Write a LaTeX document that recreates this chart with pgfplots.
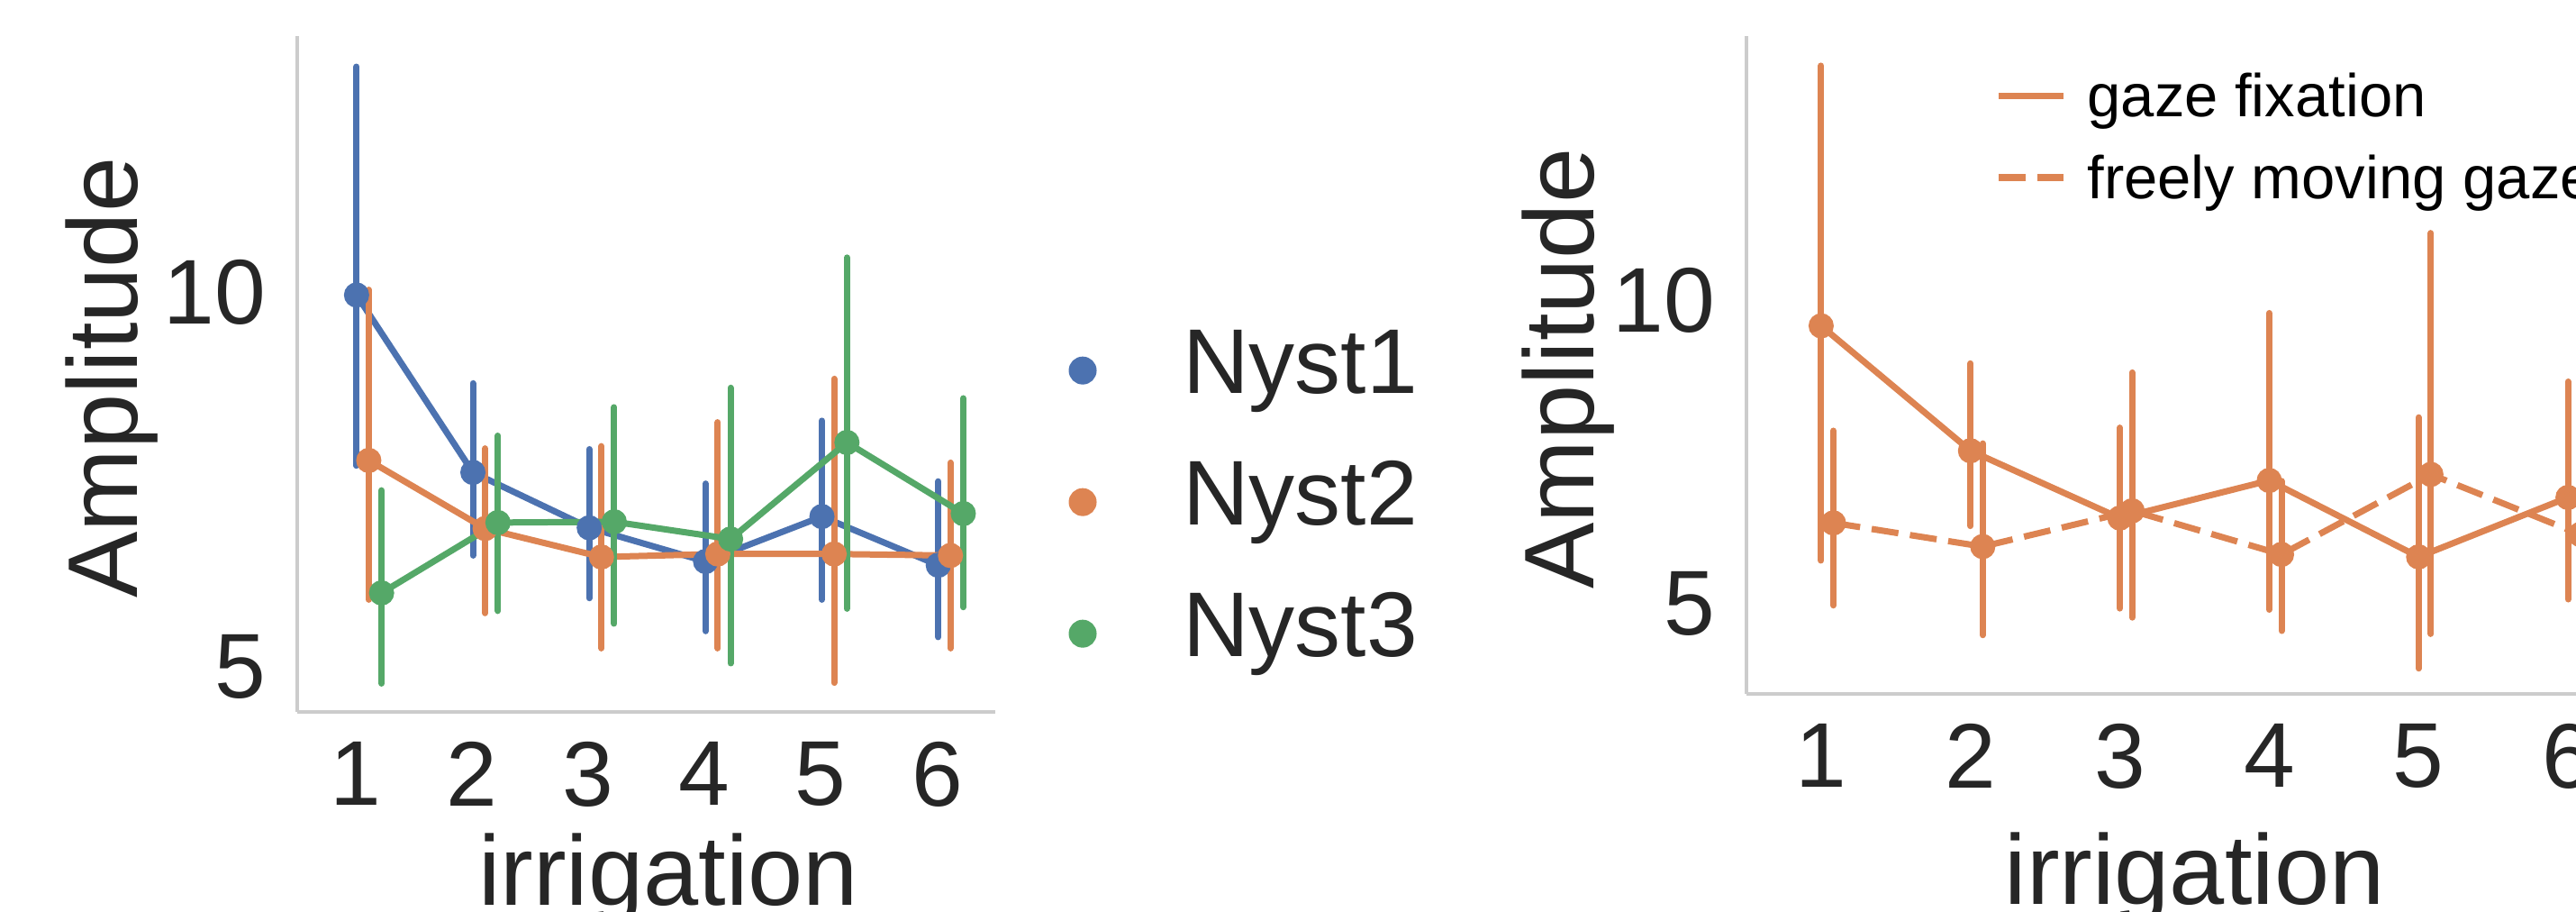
\documentclass[border=0pt]{standalone}
\usepackage{fontspec}
\setmainfont{Liberation Sans}
\usepackage{pgfplots}
\usepackage{pgfplotstable}
\pgfplotsset{compat=1.18}

\definecolor{sblue}{HTML}{4C72B0}
\definecolor{sorange}{HTML}{DD8452}
\definecolor{sgreen}{HTML}{55A868}
\definecolor{txt}{HTML}{262626}
\definecolor{spine}{HTML}{CCCCCC}

% x = irrigation, m = mean, lo/hi = ends of the error bar
\pgfplotstableread{
x m lo hi
1 9.97 7.69 13.02
2 7.60 6.49 8.79
3 6.86 5.92 7.91
4 6.41 5.48 7.45
5 7.01 5.90 8.29
6 6.36 5.40 7.48
}\nystA
\pgfplotstableread{
x m lo hi
1 7.76 5.90 10.04
2 6.85 5.72 7.92
3 6.47 5.25 7.95
4 6.51 5.25 8.27
5 6.51 4.79 8.85
6 6.49 5.25 7.73
}\nystB
\pgfplotstableread{
x m lo hi
1 5.99 4.78 7.36
2 6.93 5.75 8.09
3 6.94 5.58 8.47
4 6.71 5.05 8.73
5 8.00 5.78 10.47
6 7.05 5.80 8.59
}\nystC
\pgfplotstableread{
x m lo hi
1 9.58 5.71 13.87
2 7.52 6.28 8.96
3 6.41 4.92 7.90
4 7.03 4.90 9.79
5 5.77 3.93 8.07
6 6.75 5.07 8.66
}\fixation
\pgfplotstableread{
x m lo hi
1 6.33 4.97 7.85
2 5.94 4.48 7.64
3 6.53 4.77 8.81
4 5.81 4.55 7.02
5 7.13 4.50 11.11
6 6.14 4.60 7.90
}\freegaze

\pgfplotsset{
  snsaxis/.style={
    scale only axis,
    axis x line*=bottom, axis y line*=left,
    axis line style={draw=spine, line width=0.4pt, -},
    x axis line style={-}, y axis line style={-},
    major tick length=0pt, tick style={draw=none},
    xmin=0.5, xmax=6.5,
    xtick={1,2,3,4,5,6}, xticklabels={1,2,3,4,5,6},
    ytick={5,10}, yticklabels={5,10},
    tick label style={font=\fontsize{10.2}{12}\selectfont, text=txt},
    xticklabel style={inner sep=0pt, anchor=north, yshift=-3.1pt},
    yticklabel style={inner sep=0pt, anchor=east, xshift=-3.3pt},
    label style={font=\fontsize{11}{13}\selectfont, text=txt, inner sep=0pt},
    /pgf/number format/assume math mode=true,
  },
  ebar/.style={
    line width=0.7pt, line join=round, mark=none, forget plot,
    error bars/.cd, y dir=both, y explicit, error mark=none,
    error bar style={line width=0.7pt, line cap=round, solid},
    /pgfplots/.cd,
  },
  dots/.style={only marks, mark=*, mark size=1.3pt, forget plot,
    mark options={solid, line width=0.2pt}},
}

\begin{document}
\begin{tikzpicture}

\begin{axis}[snsaxis,
  at={(33pt,22.2pt)}, anchor=south west,
  width=77.5pt, height=75pt,
  ymin=4.40, ymax=13.43,
  xlabel={irrigation}, ylabel={Amplitude},
  xlabel style={at={(axis description cs:0.5316,-0.2867)}, anchor=base},
  ylabel style={at={(axis description cs:-0.2288,0.4944)}, anchor=base},
  legend image code/.code={\fill[#1] (0pt,0pt) circle (1.35pt); \path (-1.35pt,0pt) (10.9pt,0pt);},
  legend style={at={(axis description cs:1.1052,0.5711)}, anchor=north west,
    draw=none, fill=none, inner sep=0pt, outer sep=0pt, row sep=4.7pt, column sep=0pt,
    nodes={inner sep=0pt, text height=7.5pt, text depth=2.4pt,
      font=\fontsize{10.2}{12}\selectfont, text=txt}},
  legend cell align=left,
]
\addlegendimage{color=sblue, fill=sblue}
\addlegendentry{Nyst1}
\addlegendimage{color=sorange, fill=sorange}
\addlegendentry{Nyst2}
\addlegendimage{color=sgreen, fill=sgreen}
\addlegendentry{Nyst3}

\addplot[sblue, ebar] table[x expr=\thisrow{x}+0.01, y=m,
  y error plus expr=\thisrow{hi}-\thisrow{m}, y error minus expr=\thisrow{m}-\thisrow{lo}] {\nystA};
\addplot[sorange, ebar] table[x expr=\thisrow{x}+0.115, y=m,
  y error plus expr=\thisrow{hi}-\thisrow{m}, y error minus expr=\thisrow{m}-\thisrow{lo}] {\nystB};
\addplot[sgreen, ebar] table[x expr=\thisrow{x}+0.225, y=m,
  y error plus expr=\thisrow{hi}-\thisrow{m}, y error minus expr=\thisrow{m}-\thisrow{lo}] {\nystC};
\addplot[sblue, dots] table[x expr=\thisrow{x}+0.01, y=m] {\nystA};
\addplot[sorange, dots] table[x expr=\thisrow{x}+0.115, y=m] {\nystB};
\addplot[sgreen, dots] table[x expr=\thisrow{x}+0.225, y=m] {\nystC};
\end{axis}

\begin{axis}[snsaxis,
  at={(193.9pt,24.2pt)}, anchor=south west,
  width=99.5pt, height=73pt,
  ymin=3.51, ymax=14.36,
  xlabel={irrigation}, ylabel={Amplitude},
  xlabel style={at={(axis description cs:0.5,-0.3192)}, anchor=base},
  ylabel style={at={(axis description cs:-0.1706,0.4941)}, anchor=base},
  legend image code/.code={\draw[#1] (0pt,0.6pt) -- (7.2pt,0.6pt); \path (0pt,0pt) (9.5pt,0pt);},
  legend style={at={(axis description cs:0.2774,0.9452)}, anchor=north west,
    draw=none, fill=none, inner sep=0pt, outer sep=0pt, row sep=2.56pt, column sep=0pt,
    nodes={inner sep=0pt, text height=5pt, text depth=1.5pt,
      font=\fontsize{6.7}{8}\selectfont, text=black}},
  legend cell align=left,
]
\addlegendimage{draw=sorange, line width=0.75pt}
\addlegendentry{gaze fixation}
\addlegendimage{draw=sorange, line width=0.75pt, dash pattern=on 3pt off 1.3pt}
\addlegendentry{freely moving gaze}

\addplot[sorange, ebar] table[x=x, y=m,
  y error plus expr=\thisrow{hi}-\thisrow{m}, y error minus expr=\thisrow{m}-\thisrow{lo}] {\fixation};
\addplot[sorange, dash pattern=on 3pt off 1.3pt, ebar] table[x expr=\thisrow{x}+0.082, y=m,
  y error plus expr=\thisrow{hi}-\thisrow{m}, y error minus expr=\thisrow{m}-\thisrow{lo}] {\freegaze};
\addplot[sorange, dots] table[x=x, y=m] {\fixation};
\addplot[sorange, dots] table[x expr=\thisrow{x}+0.082, y=m] {\freegaze};
\end{axis}

\pgfresetboundingbox
\useasboundingbox (0pt,0pt) rectangle (286pt,101.2pt);
\end{tikzpicture}
\end{document}
